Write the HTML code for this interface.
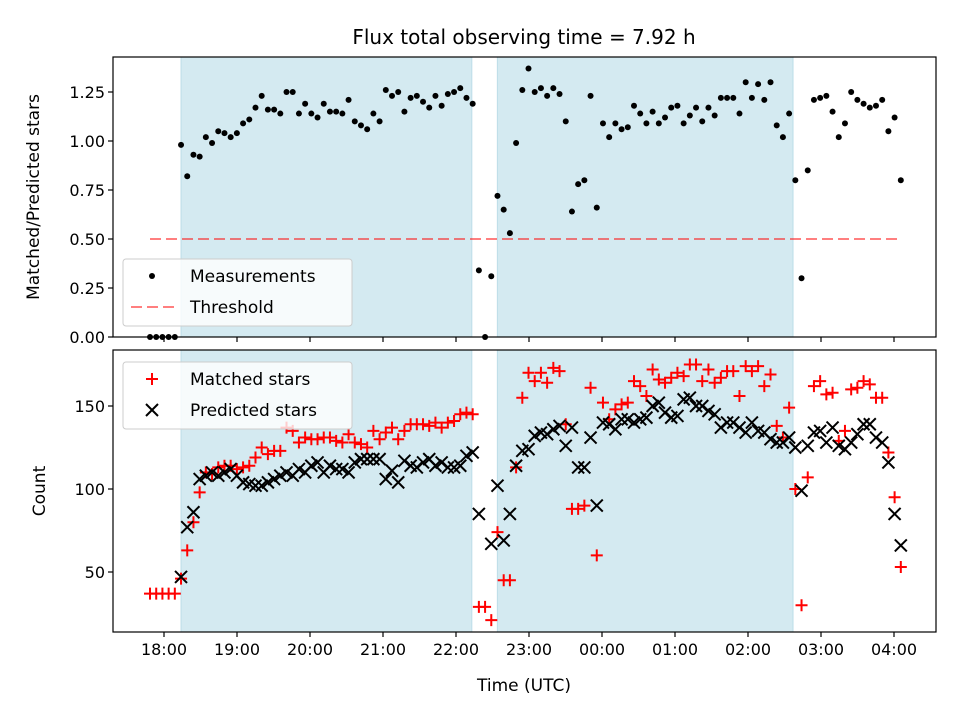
<!DOCTYPE html>
<html><head><meta charset="utf-8"><style>
html,body{margin:0;padding:0;background:#fff;}
svg{display:block;font-family:"DejaVu Sans","Liberation Sans",sans-serif;}
</style></head><body>
<svg id="chart" width="960" height="720" viewBox="0 0 960 720" xmlns="http://www.w3.org/2000/svg">
<text x="524" y="44" font-size="20" text-anchor="middle">Flux total observing time = 7.92 h</text>
<g id="top"></g>
<g id="bot"></g>
<text x="524" y="691" font-size="17" text-anchor="middle">Time (UTC)</text>
<text transform="translate(39,197) rotate(-90)" font-size="17" text-anchor="middle">Matched/Predicted stars</text>
<text transform="translate(45,491) rotate(-90)" font-size="17" text-anchor="middle">Count</text>
</svg>
<script>
// time: minutes relative to 18:00 UTC, first sample and sampling step
const timeStart = -11.5;
const timeStep = 5.1;
const ratios = [0,0,0,0,0,
0.98,0.82,0.93,0.92,1.02,0.99,1.05,1.04,1.02,1.04,1.09,1.11,1.17,1.23,1.16,1.16,1.14,1.25,1.25,1.14,1.19,1.14,1.12,1.19,1.15,1.15,1.14,1.21,1.10,1.08,1.06,1.14,1.10,1.26,
1.23,1.25,1.15,1.22,1.23,1.20,1.17,1.23,1.18,1.24,
1.25,1.27,1.22,1.19,0.34,0.0,0.31,0.72,0.65,0.53,
0.99,1.26,1.37,1.25,1.27,1.23,1.27,1.24,1.10,0.64,
0.78,0.80,1.23,0.66,1.09,1.02,1.09,1.06,1.07,1.18,
1.14,1.09,1.15,1.09,1.12,1.17,1.18,1.09,1.13,1.17,
1.10,1.17,1.13,1.22,1.22,1.22,1.14,1.30,1.22,1.29,
1.21,1.30,1.08,1.02,1.14,0.80,0.30,0.85,1.21,1.22,
1.23,1.15,1.02,1.09,1.25,1.21,1.19,1.17,1.18,1.21,
1.05,1.12,0.80];
const matched = [37,37,37,37,37,
46,63,80,98,110,109,113,114,114,112,113,114,119,125,121,123,123,137,135,128,131,130,130,131,131,129,128,133,128,127,125,135,130,134,
137,130,135,139,139,139,138,140,137,140,
141,145,146,145,29,29,21,74,45,45,
113,155,170,165,170,164,173,171,139,88,
88,90,161,60,152,142,148,151,152,165,
162,156,172,166,164,167,170,168,175,175,
165,172,164,167,171,171,156,174,171,174,
162,169,138,131,149,100,30,107,162,165,
157,158,129,135,160,161,165,163,155,155,
122,95,53];
const predicted = [null,null,null,null,null,
47,77,86,106,108,110,108,110,112,108,104,103,102,102,104,106,108,110,108,112,110,114,116,110,114,112,112,110,116,118,118,118,118,106,
111,104,117,114,113,116,118,114,116,113,
113,114,120,122,85,null,67,102,69,85,
114,123,124,132,134,133,136,138,126,137,
113,113,131,90,140,139,136,142,142,140,
142,143,150,152,146,143,144,154,155,150,
150,147,145,137,140,140,137,134,140,135,
134,130,128,128,131,125,99,126,134,135,
128,137,126,124,128,133,139,139,131,128,
116,85,66];
const xTickLabels = ["18:00","19:00","20:00","21:00","22:00","23:00","00:00","01:00","02:00","03:00","04:00"];
const xTickMinutes = [0,60,120,180,240,300,360,420,480,540,600];
const topTicks = [0,0.25,0.5,0.75,1.0,1.25];
const botTicks = [50,100,150];
const shadeSpans = [[14,253],[274,517]]; // minutes relative to 18:00
const thresholdValue = 0.5;
const thresholdRange = [-11.5,605];

const NS="http://www.w3.org/2000/svg";
const L=113,R=936;
const xs=m=>164+m*73/60;
const yTop=v=>337-v*196;
const yBot=c=>489-(c-100)*1.66;
function mk(tag,attrs,parent){const e=document.createElementNS(NS,tag);for(const k in attrs)e.setAttribute(k,attrs[k]);parent.appendChild(e);return e;}
const times=ratios.map((_,i)=>timeStart+i*timeStep);

function panel(g,top,bot){
  mk('rect',{x:L,y:top,width:R-L,height:bot-top,fill:'#fff'},g);
  shadeSpans.forEach(s=>{
    const r=mk('rect',{x:xs(s[0]),y:top,width:xs(s[1])-xs(s[0]),height:bot-top,fill:'#d4eaf1',stroke:'#bcdde8','stroke-width':1},g);
    
    
  });
}
function frame(g,top,bot,labels){
  mk('rect',{x:L,y:top,width:R-L,height:bot-top,fill:'none',stroke:'#000','stroke-width':1.2},g);
  xTickMinutes.forEach((m,i)=>{
    mk('line',{x1:xs(m),x2:xs(m),y1:bot,y2:bot+5,stroke:'#000','stroke-width':1.2},g);
    if(labels){const t=mk('text',{x:xs(m),y:bot+23,'font-size':16,'text-anchor':'middle'},g);t.textContent=xTickLabels[i];
      
      }
  });
}
// top panel
const gt=document.getElementById('top');
panel(gt,57,337);
const th=mk('line',{x1:xs(thresholdRange[0]),x2:xs(thresholdRange[1]),y1:yTop(thresholdValue),y2:yTop(thresholdValue),stroke:'rgba(255,0,0,0.5)','stroke-width':2,'stroke-dasharray':'11,5'},gt);


ratios.forEach((v,i)=>{
  const c=mk('circle',{cx:xs(times[i]),cy:yTop(v),r:3,fill:'#000'},gt);
  
  
});
frame(gt,57,337,false);
topTicks.forEach(v=>{
  mk('line',{x1:L-5,x2:L,y1:yTop(v),y2:yTop(v),stroke:'#000','stroke-width':1.2},gt);
  const t=mk('text',{x:L-8,y:yTop(v)+6,'font-size':16,'text-anchor':'end'},gt);t.textContent=v.toFixed(2);
  
  
});
// bottom panel
const gb=document.getElementById('bot');
panel(gb,350,632);
matched.forEach((v,i)=>{
  const x=xs(times[i]),y=yBot(v);
  const p=mk('path',{d:`M${x-6},${y}H${x+6}M${x},${y-6}V${y+6}`,stroke:'#f00','stroke-width':2,fill:'none'},gb);
  
  
});
predicted.forEach((v,i)=>{
  if(v===null)return;
  const x=xs(times[i]),y=yBot(v);
  const p=mk('path',{d:`M${x-6},${y-6}L${x+6},${y+6}M${x-6},${y+6}L${x+6},${y-6}`,stroke:'#000','stroke-width':2,fill:'none'},gb);
  
  
});
frame(gb,350,632,true);
botTicks.forEach(v=>{
  mk('line',{x1:L-5,x2:L,y1:yBot(v),y2:yBot(v),stroke:'#000','stroke-width':1.2},gb);
  const t=mk('text',{x:L-8,y:yBot(v)+6,'font-size':16,'text-anchor':'end'},gb);t.textContent=v;
  
  
});
// legends
function legend(g,y0,items){
  const lg=mk('g',{},g);
  
  
  mk('rect',{x:123,y:y0,width:229,height:67,rx:3,fill:'rgba(255,255,255,0.8)',stroke:'#ccc','stroke-width':1},lg);
  items.forEach((it,k)=>{
    const cy=y0+17+k*31;
    it.draw(lg,152,cy);
    const t=mk('text',{x:190,y:cy+6,'font-size':17},lg);t.textContent=it.label;
    
    
  });
}
legend(gt,259,[
  {label:'Measurements',draw:(g,x,y)=>mk('circle',{cx:x,cy:y,r:3,fill:'#000'},g)},
  {label:'Threshold',draw:(g,x,y)=>mk('line',{x1:x-21,x2:x+22,y1:y,y2:y,stroke:'rgba(255,0,0,0.5)','stroke-width':2,'stroke-dasharray':'11,5'},g)}
]);
legend(gb,362,[
  {label:'Matched stars',draw:(g,x,y)=>mk('path',{d:`M${x-6},${y}H${x+6}M${x},${y-6}V${y+6}`,stroke:'#f00','stroke-width':2},g)},
  {label:'Predicted stars',draw:(g,x,y)=>mk('path',{d:`M${x-6},${y-6}L${x+6},${y+6}M${x-6},${y+6}L${x+6},${y-6}`,stroke:'#000','stroke-width':2},g)}
]);
</script>
</body></html>
